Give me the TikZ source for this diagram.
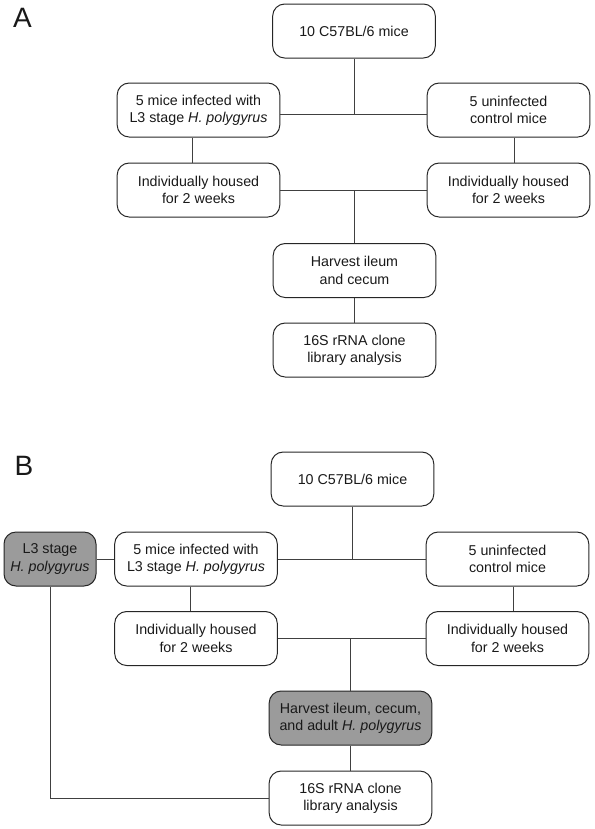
\documentclass[tikz,border=0pt]{standalone}
\usepackage{fontspec}
\setmainfont{Liberation Sans}
\definecolor{shade}{RGB}{155,155,155}
\tikzset{every picture/.style={line width=0.75pt}}
\tikzset{
  flowbox/.style={draw=black!85, rounded corners=9pt, minimum width=122pt, minimum height=40.5pt,
    align=center, inner sep=2pt, text=black!90, font=\fontsize{10.7pt}{13pt}\selectfont},
  greybox/.style={flowbox, fill=shade},
  link/.style={draw=black!75},
  panel/.style={font=\fontsize{21pt}{24pt}\selectfont, inner sep=0pt, text=black!90}
}

\begin{document}
\begin{tikzpicture}[x=0.75pt,y=0.75pt,yscale=-1,xscale=1]
\useasboundingbox (0,0) rectangle (594,829);

%Panel A
\node (labA) at (22.5,17.5) [panel] {A};
% Box
\node (aMice) at (354,31) [flowbox] {10 C57BL/6 mice};
% Box
\node (aInf) at (198.5,110) [flowbox] {5 mice infected with\\L3 stage \textit{H. polygyrus}};
% Box
\node (aCtrl) at (508.5,110) [flowbox] {5 uninfected\\control mice};
% Box
\node (aHouseL) at (198.5,190) [flowbox] {Individually housed\\for 2 weeks};
% Box
\node (aHouseR) at (508.5,190) [flowbox] {Individually housed\\for 2 weeks};
% Box
\node (aHarvest) at (354.5,270.5) [flowbox] {Harvest ileum\\and cecum};
% Box
\node (aLib) at (354.5,350) [flowbox] {16S rRNA clone\\library analysis};

% Lines
\coordinate (aRow) at ([yshift=3pt]aInf.east);
\draw [link] (aRow) -- ([yshift=3pt]aCtrl.west);
\draw [link] (aMice.south) -- (aMice.south |- aRow);
\draw [link] ([xshift=-4.5pt]aInf.south) -- ([xshift=-4.5pt]aHouseL.north);
\draw [link] ([xshift=4.5pt]aCtrl.south) -- ([xshift=4.5pt]aHouseR.north);
\draw [link] (aHouseL.east) -- (aHouseR.west);
\draw [link] (aHarvest.north |- aHouseL.east) -- (aHarvest.north);
\draw [link] (aHarvest.south) -- (aLib.north);

%Panel B
\node (labB) at (24,466) [panel] {B};
% Box
\node (bMice) at (352.5,479) [flowbox] {10 C57BL/6 mice};
% Grey box
\node (bWorm) at (50,559) [greybox, minimum width=69pt] {L3 stage\\\textit{H. polygyrus}};
% Box
\node (bInf) at (196,559) [flowbox] {5 mice infected with\\L3 stage \textit{H. polygyrus}};
% Box
\node (bCtrl) at (507.5,559) [flowbox] {5 uninfected\\control mice};
% Box
\node (bHouseL) at (196,638.5) [flowbox] {Individually housed\\for 2 weeks};
% Box
\node (bHouseR) at (507.5,638.5) [flowbox] {Individually housed\\for 2 weeks};
% Grey box
\node (bHarvest) at (350.5,718) [greybox] {Harvest ileum, cecum,\\and adult \textit{H. polygyrus}};
% Box
\node (bLib) at (350.5,798) [flowbox] {16S rRNA clone\\library analysis};

% Lines
\draw [link] (bInf.east) -- (bCtrl.west);
\draw [link] (bMice.south) -- (bMice.south |- bInf.east);
\draw [link] (bWorm.east) -- (bInf.west);
\draw [link] ([xshift=-4.5pt]bInf.south) -- ([xshift=-4.5pt]bHouseL.north);
\draw [link] ([xshift=4.5pt]bCtrl.south) -- ([xshift=4.5pt]bHouseR.north);
\draw [link] (bHouseL.east) -- (bHouseR.west);
\draw [link] (bHarvest.north |- bHouseL.east) -- (bHarvest.north);
\draw [link] (bHarvest.south) -- (bLib.north);
\draw [link] (bWorm.south) |- (bLib.west);

\end{tikzpicture}
\end{document}
